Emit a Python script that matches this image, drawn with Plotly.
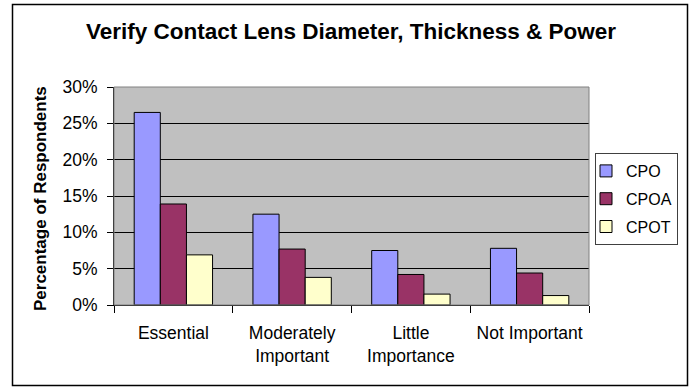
import plotly.graph_objects as go

categories = ["Essential", "Moderately<br>Important", "Little<br>Importance", "Not Important"]
cpo = [0.265, 0.125, 0.075, 0.078]
cpoa = [0.139, 0.077, 0.042, 0.044]
cpot = [0.069, 0.038, 0.015, 0.013]
y_ticks = [0, 0.05, 0.10, 0.15, 0.20, 0.25, 0.30]

FONT = "Liberation Sans, Arial, sans-serif"
W, H = 697, 387
L, R, T, B = 114, 589, 87, 305

fig = go.Figure()
for name, vals, col in [("CPO", cpo, "#9999FF"), ("CPOA", cpoa, "#993366"), ("CPOT", cpot, "#FFFFCC")]:
    fig.add_trace(go.Bar(x=categories, y=vals, name=name, legendgroup=name,
                         marker=dict(color=col, line=dict(color="black", width=1))))

def px(x):
    return (x - L) / (R - L)

def py(y):
    return (B - y) / (B - T)

fig.update_layout(
    width=W, height=H,
    margin=dict(l=L, r=W - R, t=T, b=H - B, pad=0, autoexpand=False),
    paper_bgcolor="white", plot_bgcolor="#C0C0C0",
    font=dict(family=FONT, size=17.5, color="black"),
    barmode="group", bargap=0.34, bargroupgap=0,
    title=dict(text="<b>Verify Contact Lens Diameter, Thickness & Power</b>", font=dict(size=22.5),
               x=351 / W, xanchor="center", y=1 - 31 / H, yanchor="middle", xref="container", yref="container"),
    showlegend=True,
    legend=dict(x=px(595), y=py(153), xanchor="left", yanchor="top", bgcolor="white",
                bordercolor="#404040", borderwidth=1, font=dict(size=16), tracegroupgap=4,
                traceorder="grouped", indentation=-10),
    xaxis=dict(type="category", tickson="boundaries", ticks="outside", ticklen=7, tickcolor="black",
               showline=True, linecolor="black", linewidth=1, showgrid=False, ticklabelstandoff=12),
    yaxis=dict(range=[0, 0.30], tickvals=y_ticks, tickformat=".0%", ticks="outside", ticklen=6,
               tickcolor="black", showline=True, linecolor="black", linewidth=1,
               gridcolor="black", gridwidth=1, zeroline=False, ticklabelstandoff=6),
)
fig.add_annotation(text="<b>Percentage of Respondents</b>", textangle=-90, xref="paper", yref="paper",
                   x=px(40), y=py(199), xanchor="center", yanchor="middle", showarrow=False, font=dict(size=17))
fig.add_shape(type="rect", xref="paper", yref="paper", x0=0, x1=1, y0=0, y1=1,
              line=dict(color="#808080", width=1), layer="above")
fig.add_shape(type="rect", xref="paper", yref="paper", x0=px(12.5), x1=px(687.5), y0=py(385.5), y1=py(4.5),
              line=dict(color="black", width=1.5))
fig.write_html("out.html", config={"displayModeBar": False},
               post_script="document.body.style.margin='0';")
